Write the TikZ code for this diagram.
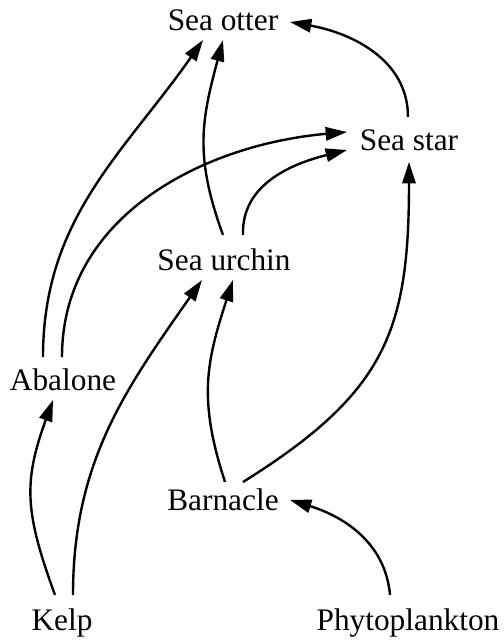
\documentclass[tikz,border=0pt]{standalone}
\usepackage{fontspec}
\setmainfont{Liberation Serif}
\usepackage{tikz}
\usetikzlibrary{calc,arrows.meta}
\tikzset{
  ar/.style={-{Triangle[length=16pt,width=10pt]},line width=1.8pt,black},
  lbl/.style={anchor=base,inner sep=0pt,font=\fontsize{23.5}{28}\selectfont}
}
\begin{document}
\begin{tikzpicture}[x=0.75pt,y=0.75pt]
\useasboundingbox (0,0) rectangle (504,-640);
\node[lbl] (otter) at (223,-30) {Sea otter};
\node[lbl] (star) at (409,-150) {Sea star};
\node[lbl] (urchin) at (224,-270) {Sea urchin};
\node[lbl] (abalone) at (63,-390) {Abalone};
\node[lbl] (barnacle) at (223,-510) {Barnacle};
\node[lbl] (kelp) at (62,-630) {Kelp};
\node[lbl] (phyto) at (408,-630) {Phytoplankton};
\draw[ar] ($(star.base)+(-1,33)$) to[out=90,in=-10] ($(otter.base)+(67,8)$);
\draw[ar] ($(urchin.base)+(-1,35)$) to[out=110,in=255,looseness=1.1] ($(otter.base)+(0,-10)$);
\draw[ar] ($(abalone.base)+(-20,33)$) to[out=90,in=235] ($(otter.base)+(-20,-10)$);
\draw[ar] ($(abalone.base)+(-1,33)$) to[out=90,in=185] ($(star.base)+(-62,18)$);
\draw[ar] ($(urchin.base)+(19,35)$) to[out=92,in=194] ($(star.base)+(-62,0)$);
\draw[ar] ($(kelp.base)+(-7,35)$) to[out=110,in=250,looseness=1.15] ($(abalone.base)+(-10,-10)$);
\draw[ar] ($(kelp.base)+(11,35)$) to[out=90,in=235] ($(urchin.base)+(-22,-10)$);
\draw[ar] ($(barnacle.base)+(2,28)$) to[out=108,in=252,looseness=1.1] ($(urchin.base)+(9,-10)$);
\draw[ar] ($(barnacle.base)+(20,28)$) to[out=32,in=270,looseness=1.2] ($(star.base)+(0,-12)$);
\draw[ar] ($(phyto.base)+(-18,35)$) to[out=95,in=-17] ($(barnacle.base)+(67,10)$);
\end{tikzpicture}
\end{document}
